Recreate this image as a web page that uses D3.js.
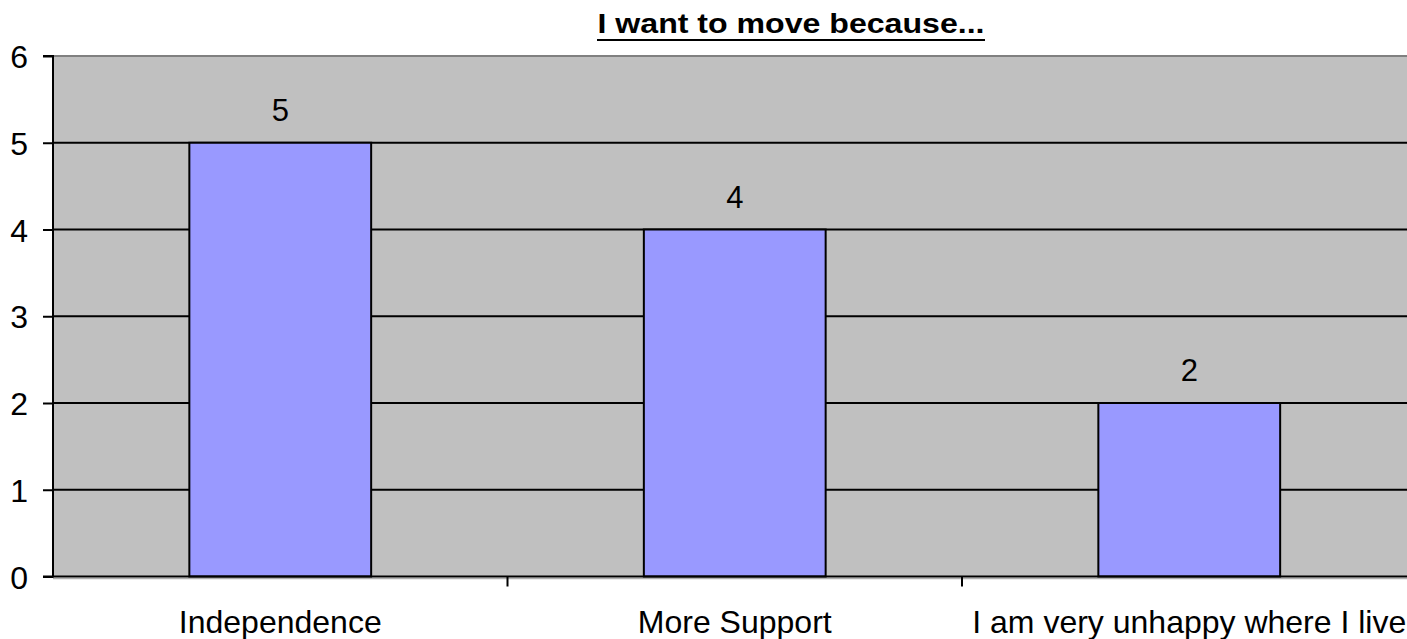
<!DOCTYPE html>
<html>
<head>
<meta charset="utf-8">
<script src="https://cdn.jsdelivr.net/npm/d3@7"></script>
<style>
  html, body { margin: 0; padding: 0; background: #fff; }
  svg { display: block; }
  text { font-family: "Liberation Sans", Arial, sans-serif; fill: #000; }
</style>
</head>
<body>
<svg id="chart" width="1407" height="639"></svg>
<script>
const categories = ["Independence", "More Support", "I am very unhappy where I live"];
const values = [5, 4, 2];
const yTicks = [0, 1, 2, 3, 4, 5, 6];
const title = "I want to move because...";

(function () {
const svg = d3.select("#chart");
const mLeft = 53, mTop = 56, mBottom = 576.5, band = 454.5;
const x = d3.scaleBand().domain(categories).range([mLeft, mLeft + band * categories.length]).padding(0);
const y = d3.scaleLinear().domain([0, 6]).range([mBottom, mTop]);
const barW = x.bandwidth() * 0.4;
const xEnd = x.range()[1];

// plot area
svg.append("rect")
  .attr("x", mLeft).attr("y", mTop)
  .attr("width", xEnd - mLeft).attr("height", mBottom - mTop)
  .attr("fill", "#C0C0C0");
// top border
svg.append("line")
  .attr("x1", mLeft).attr("x2", xEnd)
  .attr("y1", mTop).attr("y2", mTop)
  .attr("stroke", "#808080").attr("stroke-width", 2);
// bottom light border
svg.append("line")
  .attr("x1", mLeft).attr("x2", xEnd)
  .attr("y1", mBottom + 2).attr("y2", mBottom + 2)
  .attr("stroke", "#b0b0b0").attr("stroke-width", 1.5);

// gridlines
svg.append("g").selectAll("line")
  .data(yTicks.filter(d => d > 0 && d < 6))
  .join("line")
  .attr("x1", mLeft).attr("x2", xEnd)
  .attr("y1", d => y(d)).attr("y2", d => y(d))
  .attr("stroke", "#000").attr("stroke-width", 2);

// bars
svg.append("g").selectAll("rect")
  .data(values)
  .join("rect")
  .attr("x", (d, i) => x(categories[i]) + x.bandwidth() / 2 - barW / 2)
  .attr("y", d => y(d))
  .attr("width", barW)
  .attr("height", d => y(0) - y(d))
  .attr("fill", "#9999FF")
  .attr("stroke", "#000").attr("stroke-width", 2);

// data labels
svg.append("g").selectAll("text")
  .data(values)
  .join("text")
  .attr("x", (d, i) => x(categories[i]) + x.bandwidth() / 2)
  .attr("y", d => y(d) - 22)
  .attr("text-anchor", "middle")
  .attr("font-size", 31)
  .text(d => d);

// y axis
const yAxis = d3.axisLeft(y).tickValues(yTicks).tickSize(10).tickPadding(15).tickFormat(d3.format("d"));
const gy = svg.append("g").attr("transform", `translate(${mLeft},0)`).call(yAxis);
gy.select(".domain").attr("stroke", "#000").attr("stroke-width", 2).attr("d", `M-10,${mTop}H0V${mBottom}H-10`);
gy.selectAll(".tick line").attr("stroke", "#000").attr("stroke-width", 2);
gy.selectAll(".tick text").attr("font-size", 32).attr("font-family", "Liberation Sans, Arial, sans-serif").attr("fill", "#000").attr("dy", "0.36em");

// x axis
const xAxis = d3.axisBottom(x).tickSize(0).tickPadding(0);
const gx = svg.append("g").attr("transform", `translate(0,${mBottom})`).call(xAxis);
gx.select(".domain").attr("stroke", "#000").attr("stroke-width", 2).attr("d", `M${mLeft},0H${xEnd}`);
gx.selectAll(".tick text").attr("font-size", 32).attr("font-family", "Liberation Sans, Arial, sans-serif").attr("fill", "#000").attr("y", 56).attr("dy", 0);
// category separator ticks
svg.append("g").selectAll("line")
  .data(categories)
  .join("line")
  .attr("x1", (d) => x(d) + x.bandwidth()).attr("x2", (d) => x(d) + x.bandwidth())
  .attr("y1", mBottom).attr("y2", mBottom + 10)
  .attr("stroke", "#000").attr("stroke-width", 2);

// title
svg.append("text")
  .attr("x", 791).attr("y", 33)
  .attr("text-anchor", "middle")
  .attr("font-size", 28).attr("font-weight", "bold")
  .attr("textLength", 387).attr("lengthAdjust", "spacingAndGlyphs")
  .text(title);
svg.append("line")
  .attr("x1", 597).attr("x2", 985)
  .attr("y1", 40).attr("y2", 40)
  .attr("stroke", "#000").attr("stroke-width", 2);
})();
</script>
</body>
</html>
